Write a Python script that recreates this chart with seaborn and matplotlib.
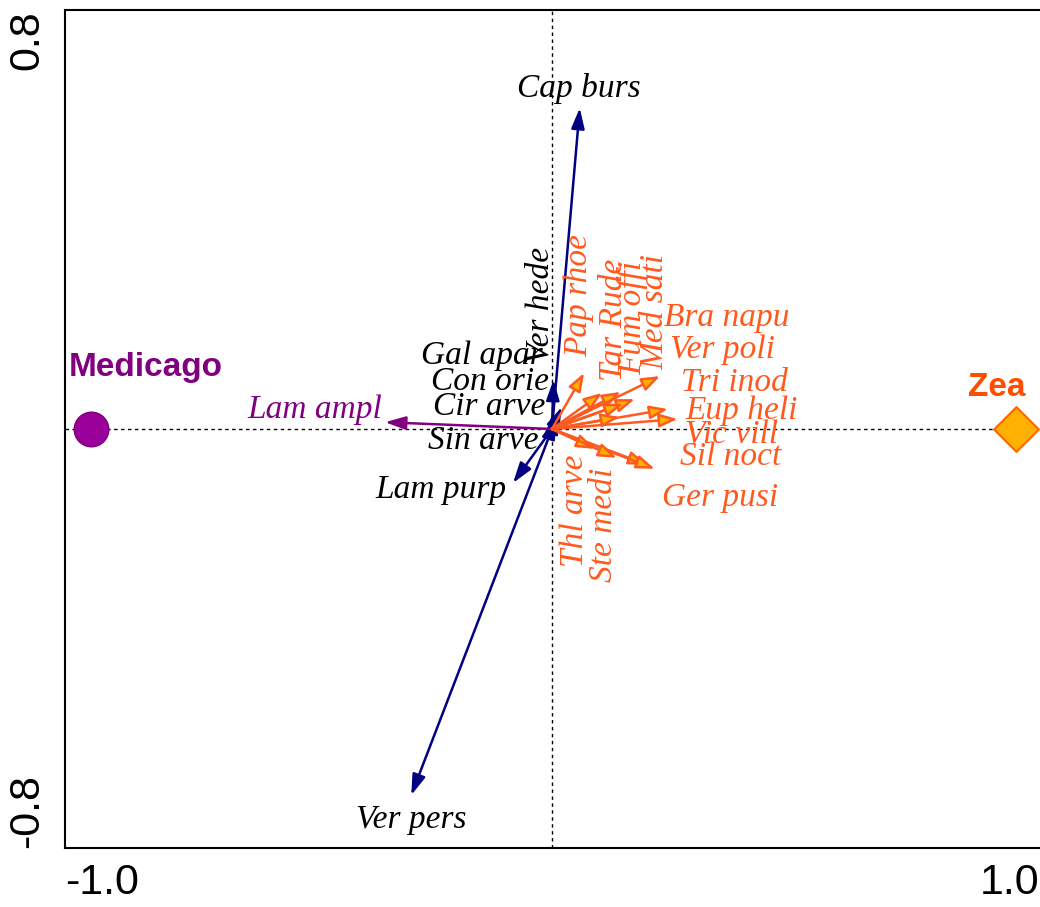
import numpy as np
import pandas as pd
import matplotlib
matplotlib.use("Agg")
import matplotlib.pyplot as plt
import seaborn as sns

# species arrows (ordination scores)
blue_species = ["Cap burs", "Ver pers", "Lam purp", "Ver hede", "Gal apar", "Con orie", "Cir arve", "Sin arve"]
blue_x = [0.057, -0.289, -0.080, 0.003, 0.004, 0.008, 0.020, -0.014]
blue_y = [0.613, -0.699, -0.103, 0.094, 0.030, 0.020, 0.042, -0.021]

purple_species = ["Lam ampl"]
purple_x = [-0.343]
purple_y = [0.013]

orange_species = ["Pap rhoe", "Tar Rude", "Fum offi", "Med sati", "Bra napu", "Ver poli", "Tri inod",
                  "Eup heli", "Vic vill", "Sil noct", "Ger pusi", "Thl arve", "Ste medi"]
orange_x = [0.066, 0.103, 0.141, 0.222, 0.170, 0.146, 0.238, 0.258, 0.139, 0.195, 0.211, 0.088, 0.133]
orange_y = [0.107, 0.069, 0.071, 0.101, 0.057, 0.048, 0.038, 0.019, 0.023, -0.068, -0.076, -0.038, -0.055]

# label placement (moved by hand in the original)
blue_lab_x = [0.056, -0.290, -0.227, -0.024, -0.145, -0.128, -0.128, -0.141]
blue_lab_y = [0.651, -0.747, -0.116, 0.237, 0.139, 0.090, 0.042, -0.023]
blue_rot = [0, 0, 0, 90, 0, 0, 0, 0]
purple_lab_x = [-0.487]
purple_lab_y = [0.036]
orange_lab_x = [0.056, 0.126, 0.165, 0.212, 0.358, 0.350, 0.374, 0.389, 0.368, 0.366, 0.346, 0.046, 0.106]
orange_lab_y = [0.254, 0.208, 0.212, 0.223, 0.212, 0.151, 0.088, 0.034, -0.011, -0.053, -0.132, -0.157, -0.184]
orange_rot = [90, 90, 90, 90, 0, 0, 0, 0, 0, 0, 0, 90, 90]

# samples (centroids)
samples = ["Medicago", "Zea"]
sample_x = [-0.946, 0.952]
sample_y = [0.0, 0.0]

NAVY = "#000080"
PURPLE = "#800080"
ORANGE = "#FF5A1E"
ORANGE_FILL = "#FFB000"

sns.set_style("white")
plt.rcParams["font.family"] = ["Liberation Sans", "DejaVu Sans"]

fig = plt.figure(figsize=(10.4, 9.07), dpi=100)
ax = fig.add_axes([65 / 1040, 59 / 907, 974 / 1040, 838 / 907])
ax.set_xlim(-1.0, 1.0)
ax.set_ylim(-0.8, 0.8)

ax.axhline(0, color="black", lw=1, ls=(0, (2.5, 2.5)), zorder=1)
ax.axvline(0, color="black", lw=1, ls=(0, (2.5, 2.5)), zorder=1)


def draw_arrows(xs, ys, ec, fc, head):
    for x, y in zip(xs, ys):
        ax.annotate("", xy=(x, y), xytext=(0, 0),
                    arrowprops=dict(arrowstyle=head, ec=ec, fc=fc, lw=1.8, mutation_scale=20,
                                    shrinkA=0, shrinkB=0), zorder=3)


draw_arrows(blue_x, blue_y, NAVY, NAVY, "-|>,head_length=0.62,head_width=0.2")
draw_arrows(purple_x, purple_y, PURPLE, PURPLE, "-|>,head_length=0.62,head_width=0.2")
draw_arrows(orange_x, orange_y, ORANGE, ORANGE_FILL, "-|>,head_length=0.55,head_width=0.2")

lab_font = dict(family="Liberation Serif", style="italic", fontsize=24, ha="center", va="center")
for name, x, y, r in zip(blue_species, blue_lab_x, blue_lab_y, blue_rot):
    ax.text(x, y, name, color="black", rotation=r, zorder=4, **lab_font)
for name, x, y in zip(purple_species, purple_lab_x, purple_lab_y):
    ax.text(x, y, name, color=PURPLE, zorder=4, **lab_font)
for name, x, y, r in zip(orange_species, orange_lab_x, orange_lab_y, orange_rot):
    ax.text(x, y, name, color=ORANGE, rotation=r, zorder=4, **lab_font)

df = pd.DataFrame({"x": sample_x, "y": sample_y, "sample": samples})
sns.scatterplot(data=df[df["sample"] == "Medicago"], x="x", y="y", ax=ax, s=620, marker="o",
                color="#990099", edgecolor=PURPLE, linewidth=1, zorder=5, legend=False)
sns.scatterplot(data=df[df["sample"] == "Zea"], x="x", y="y", ax=ax, s=520, marker="D",
                color=ORANGE_FILL, edgecolor="#FF6600", linewidth=1.5, zorder=5, legend=False)
ax.text(sample_x[0] + 0.112, 0.117, "Medicago", color=PURPLE, fontsize=24, fontweight="bold",
        ha="center", va="center")
ax.text(sample_x[1] - 0.038, 0.080, "Zea", color="#FF4E00", fontsize=24, fontweight="bold",
        ha="center", va="center")

ax.set_xlabel("")
ax.set_ylabel("")
ax.set_xticks([-1.0, -0.5, 0.0, 0.5, 1.0])
ax.set_xticklabels(["-1.0", "", "", "", "1.0"])
ax.set_yticks([-0.8, -0.6, -0.4, -0.2, 0.0, 0.2, 0.4, 0.6, 0.8])
ax.set_yticklabels(["-0.8", "", "", "", "", "", "", "", "0.8"], rotation=90)
ax.tick_params(direction="inout", length=10, width=1.5, labelsize=31, pad=6, colors="black")
ax.tick_params(axis="y", pad=8)
xl = ax.get_xticklabels()
xl[0].set_ha("left")
xl[-1].set_ha("right")
yl = ax.get_yticklabels()
yl[0].set_va("bottom")
yl[-1].set_va("top")

for side in ["left", "bottom", "top"]:
    ax.spines[side].set_color("black")
    ax.spines[side].set_linewidth(1.5)
ax.spines["right"].set_visible(False)

fig.savefig("out.png", dpi=100)
